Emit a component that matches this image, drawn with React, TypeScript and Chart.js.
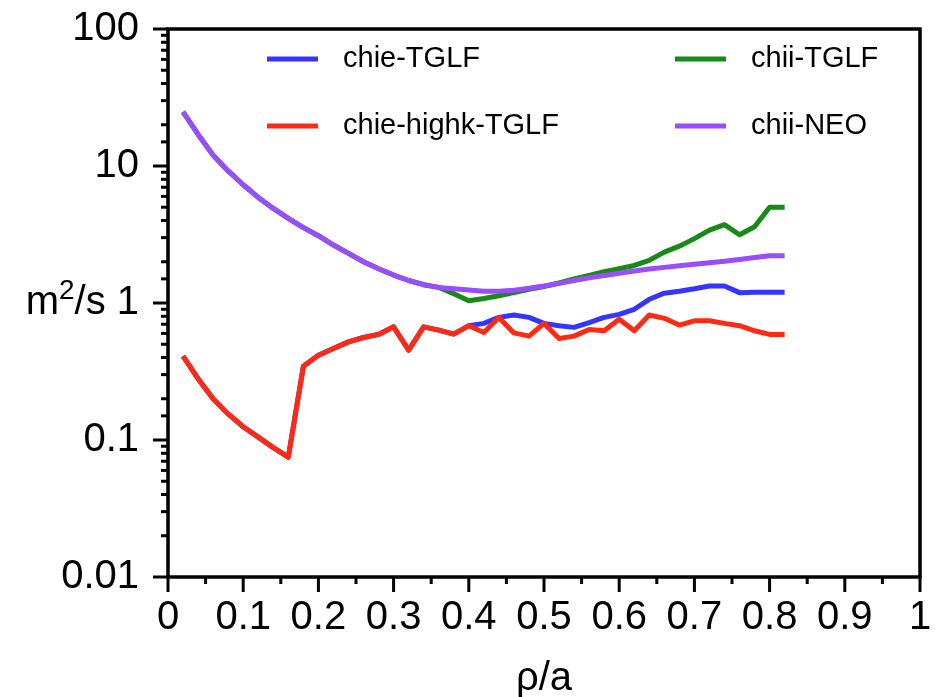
import React, { useEffect, useRef } from "react";
import { Chart, registerables } from "chart.js";

Chart.register(...registerables);

const RHO = [
  0.02, 0.04, 0.06, 0.08, 0.1, 0.12, 0.14, 0.16, 0.18, 0.2,
  0.22, 0.24, 0.26, 0.28, 0.3, 0.32, 0.34, 0.36, 0.38, 0.4,
  0.42, 0.44, 0.46, 0.48, 0.5, 0.52, 0.54, 0.56, 0.58, 0.6,
  0.62, 0.64, 0.66, 0.68, 0.7, 0.72, 0.74, 0.76, 0.78, 0.8, 0.82,
];

const CHIE_HIGHK_TGLF = [
  0.41, 0.28, 0.2, 0.155, 0.125, 0.105, 0.088, 0.075, 0.345, 0.415,
  0.465, 0.52, 0.56, 0.59, 0.67, 0.453, 0.67, 0.634, 0.593, 0.683,
  0.61, 0.785, 0.605, 0.573, 0.71, 0.55, 0.573, 0.64, 0.627, 0.76,
  0.627, 0.817, 0.773, 0.69, 0.741, 0.741, 0.71, 0.683, 0.627, 0.59, 0.59,
];

const CHIE_TGLF = [
  0.41, 0.28, 0.2, 0.155, 0.125, 0.105, 0.088, 0.075, 0.345, 0.415,
  0.465, 0.52, 0.56, 0.59, 0.67, 0.453, 0.67, 0.634, 0.593, 0.683,
  0.71, 0.785, 0.817, 0.785, 0.71, 0.683, 0.664, 0.718, 0.785, 0.826,
  0.9, 1.064, 1.18, 1.22, 1.27, 1.33, 1.33, 1.19, 1.2, 1.2, 1.2,
];

const CHII_NEO = [
  24.8, 17.0, 12.0, 9.2, 7.3, 5.9, 4.9, 4.15, 3.55, 3.1,
  2.65, 2.3, 2.0, 1.78, 1.6, 1.46, 1.36, 1.3, 1.27, 1.245,
  1.22, 1.22, 1.24, 1.28, 1.33, 1.39, 1.46, 1.53, 1.59, 1.65,
  1.71, 1.77, 1.82, 1.87, 1.92, 1.97, 2.02, 2.08, 2.15, 2.21, 2.21,
];

const CHII_TGLF = [
  24.8, 17.0, 12.0, 9.2, 7.3, 5.9, 4.9, 4.15, 3.55, 3.1,
  2.65, 2.3, 2.0, 1.78, 1.6, 1.46, 1.36, 1.3, 1.17, 1.04,
  1.08, 1.13, 1.19, 1.26, 1.32, 1.4, 1.5, 1.59, 1.69, 1.78,
  1.88, 2.05, 2.35, 2.6, 2.95, 3.4, 3.73, 3.15, 3.6, 5.0, 5.0,
];

const Y_TICK_VALUES = [0.01, 0.1, 1, 10, 100];
const Y_TICK_LABELS = ["0.01", "0.1", "1", "10", "100"];
const X_MINOR_TICKS = [0.05, 0.15, 0.25, 0.35, 0.45, 0.55, 0.65, 0.75, 0.85, 0.95];

const SERIES = [
  { label: "chie-TGLF", values: CHIE_TGLF, color: "#3535ff", order: 2 },
  { label: "chii-TGLF", values: CHII_TGLF, color: "#178a17", order: 3 },
  { label: "chie-highk-TGLF", values: CHIE_HIGHK_TGLF, color: "#ff2a12", order: 0 },
  { label: "chii-NEO", values: CHII_NEO, color: "#9b4cff", order: 1 },
];

const FONT_FAMILY = '"Liberation Sans", Arial, Helvetica, sans-serif';

const isPow10 = (v: number) => {
  const l = Math.log10(v);
  return Math.abs(l - Math.round(l)) < 1e-6;
};

const decorPlugin = {
  id: "decor",
  afterDraw(chart: any) {
    const ctx = chart.ctx;
    const { left, right, top, bottom } = chart.chartArea;
    const xs = chart.scales.x;
    const ys = chart.scales.y;
    ctx.save();
    ctx.strokeStyle = "#000";
    ctx.lineWidth = 3.5;
    ctx.lineCap = "butt";
    ctx.strokeRect(left, top, right - left, bottom - top);

    // x ticks
    ctx.lineWidth = 3;
    xs.ticks.forEach((t: any) => {
      const px = xs.getPixelForValue(t.value);
      ctx.beginPath();
      ctx.moveTo(px, bottom);
      ctx.lineTo(px, bottom + 15);
      ctx.stroke();
    });
    X_MINOR_TICKS.forEach((v) => {
      const px = xs.getPixelForValue(v);
      ctx.beginPath();
      ctx.moveTo(px, bottom);
      ctx.lineTo(px, bottom + 7);
      ctx.stroke();
    });
    // y ticks
    ys.ticks.forEach((t: any) => {
      const py = ys.getPixelForValue(t.value);
      const len = isPow10(t.value) ? 15 : 7;
      ctx.beginPath();
      ctx.moveTo(left, py);
      ctx.lineTo(left - len, py);
      ctx.stroke();
    });

    // y-axis title "m²/s" next to the "1" label
    const py1 = ys.getPixelForValue(1);
    ctx.fillStyle = "#000";
    ctx.textBaseline = "middle";
    ctx.font = `40px ${FONT_FAMILY}`;
    const labelRight = ys.right - 29;
    const oneW = ctx.measureText("1").width;
    const spaceW = ctx.measureText(" ").width;
    const xEnd = labelRight - oneW - spaceW;
    const slashS = "/s";
    const wS = ctx.measureText(slashS).width;
    ctx.font = `28px ${FONT_FAMILY}`;
    const w2 = ctx.measureText("2").width;
    ctx.font = `40px ${FONT_FAMILY}`;
    const wm = ctx.measureText("m").width;
    const x0 = xEnd - wS - w2 - wm;
    ctx.textAlign = "left";
    ctx.fillText("m", x0, py1);
    ctx.font = `28px ${FONT_FAMILY}`;
    ctx.fillText("2", x0 + wm, py1 - 12);
    ctx.font = `40px ${FONT_FAMILY}`;
    ctx.fillText(slashS, x0 + wm + w2, py1);

    // legend
    const cols = [267, 675];
    const rows = [59, 126];
    ctx.font = `29px ${FONT_FAMILY}`;
    ctx.textBaseline = "middle";
    chart.data.datasets.forEach((ds: any, i: number) => {
      const cx = cols[i % 2];
      const cy = rows[Math.floor(i / 2)];
      ctx.strokeStyle = ds.borderColor;
      ctx.lineWidth = 5;
      ctx.beginPath();
      ctx.moveTo(cx, cy);
      ctx.lineTo(cx + 51, cy);
      ctx.stroke();
      ctx.fillStyle = "#000";
      ctx.fillText(ds.label, cx + 76, cy);
    });
    ctx.restore();
  },
};

export default function App() {
  const ref = useRef<HTMLCanvasElement | null>(null);

  useEffect(() => {
    if (!ref.current) return;
    const chart = new Chart(ref.current, {
      type: "line",
      data: {
        datasets: SERIES.map((s) => ({
          label: s.label,
          data: RHO.map((x, i) => ({ x, y: s.values[i] })),
          borderColor: s.color,
          backgroundColor: s.color,
          borderWidth: 5,
          pointRadius: 0,
          fill: false,
          tension: 0,
          order: s.order,
          borderJoinStyle: "round" as const,
        })),
      },
      options: {
        animation: false,
        responsive: false,
        devicePixelRatio: 1,
        layout: { padding: { top: 29, right: 15, left: 0, bottom: 0 } },
        plugins: {
          legend: { display: false },
          tooltip: { enabled: false },
        },
        scales: {
          x: {
            type: "linear",
            min: 0,
            max: 1,
            ticks: {
              stepSize: 0.1,
              color: "#000",
              font: { size: 40, family: FONT_FAMILY },
              padding: 17,
              maxRotation: 0,
              autoSkip: false,
              callback: (v: any) => {
                const n = Math.round(Number(v) * 10) / 10;
                if (n === 0) return "0";
                if (n === 1) return "1";
                return n.toFixed(1);
              },
            },
            grid: { display: true, drawOnChartArea: false, drawTicks: false },
            border: { display: false },
            title: {
              display: true,
              text: "ρ/a",
              color: "#000",
              font: { size: 40, family: FONT_FAMILY },
              padding: { top: 0, bottom: -6 },
            },
            afterFit: (scale: any) => {
              scale.height = 120;
              scale.paddingLeft = 0;
              scale.paddingRight = 0;
            },
          },
          y: {
            type: "logarithmic",
            min: 0.01,
            max: 100,
            ticks: {
              autoSkip: false,
              color: "#000",
              font: { size: 40, family: FONT_FAMILY },
              padding: 29,
              callback: (v: any) => {
                const idx = Y_TICK_VALUES.findIndex(
                  (t) => Math.abs(Math.log10(t) - Math.log10(Number(v))) < 1e-6
                );
                return idx >= 0 ? Y_TICK_LABELS[idx] : "";
              },
            },
            grid: { display: true, drawOnChartArea: false, drawTicks: false },
            border: { display: false },
            afterFit: (scale: any) => {
              scale.width = 168;
              scale.paddingTop = 0;
              scale.paddingBottom = 0;
            },
          },
        },
      },
      plugins: [decorPlugin],
    });
    return () => chart.destroy();
  }, []);

  return (
    <div style={{ position: "fixed", left: 0, top: 0, width: 935, height: 697, background: "#fff" }}>
      <canvas ref={ref} width={935} height={697} />
    </div>
  );
}
